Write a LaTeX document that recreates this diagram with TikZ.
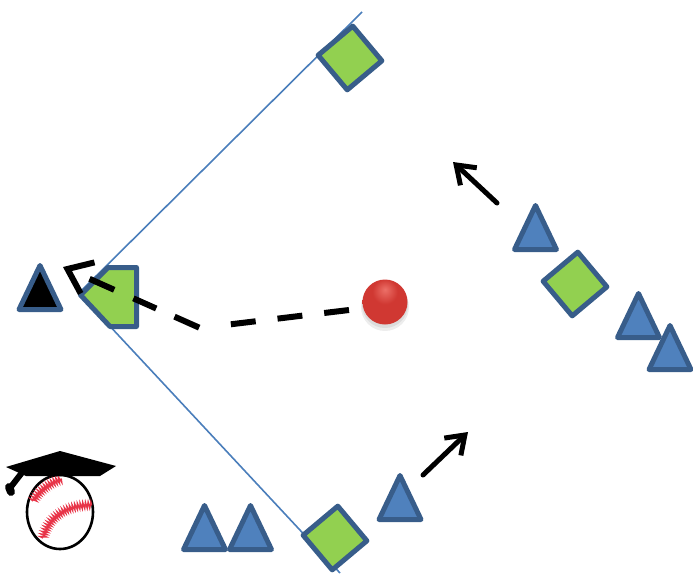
\documentclass[tikz,border=0pt]{standalone}
\usetikzlibrary{shapes.geometric,arrows.meta,decorations.pathmorphing,shadows}
\definecolor{fieldline}{RGB}{74,126,187}
\definecolor{edgeblue}{RGB}{56,93,138}
\definecolor{baggreen}{RGB}{146,208,80}
\definecolor{playerblue}{RGB}{79,129,189}
\definecolor{seamred}{RGB}{232,52,72}
\definecolor{ballhi}{RGB}{236,112,104}
\definecolor{ballmid}{RGB}{208,56,50}
\definecolor{balledge}{RGB}{170,32,28}
\pgfdeclareradialshading{redball}{\pgfpoint{0bp}{14bp}}{%
  color(0bp)=(ballhi); color(14bp)=(ballmid); color(40bp)=(ballmid);
  color(58bp)=(balledge); color(80bp)=(balledge)}
\begin{document}
\begin{tikzpicture}[x=1pt,y=-1pt,
  foul/.style={draw=fieldline,line width=1.6pt},
  bag/.style={diamond,draw=edgeblue,fill=baggreen,line width=5pt,line join=round,
    inner sep=0pt,outer sep=0pt,minimum width=64pt,minimum height=64pt,rotate=-5},
  plate/.style={draw=edgeblue,fill=baggreen,line width=5pt,line join=round},
  fielder/.style={isosceles triangle,isosceles triangle stretches,rotate=90,
    anchor=lower side,draw=edgeblue,fill=playerblue,line width=5pt,line join=round,
    inner sep=0pt,outer sep=0pt,minimum width=42pt,minimum height=44pt},
  runner/.style={fielder,fill=black},
  move/.style={draw=black,line width=5pt,line cap=round,
    -{Straight Barb[length=17pt,width=24pt]}},
  steal/.style={draw=black,line width=6pt,
    dash pattern=on 25pt off 22pt on 25pt off 22pt on 25pt off 32pt
      on 27pt off 20pt on 25pt off 21pt on 27pt off 60pt,
    -{Straight Barb[length=22pt,width=34pt]}},
  seam/.style={draw=seamred,line width=1.4pt,
    decorate,decoration={zigzag,amplitude=3pt,segment length=2.6pt}}
]
\useasboundingbox (0,0) rectangle (693,573);

% foul lines meeting behind home plate
\coordinate (home) at (79,293);
\coordinate (leftpole) at (362,12);
\coordinate (rightpole) at (340,573);
\draw[foul] (home) -- (leftpole);
\draw[foul] (home) -- (rightpole);

% bases
\node[bag] (third) at (350,58) {};
\node[bag] (second) at (575,284) {};
\node[bag] (first) at (335,538) {};
\draw[plate] (108,267.5) -- (136.5,267.5) -- (136.5,326.5) -- (110,326.5) -- (80.5,295) -- cycle;

% players
\node[fielder] (p1) at (535.5,249.5) {};
\node[fielder] (p2) at (638.5,337.5) {};
\node[fielder] (p3) at (670,369.5) {};
\node[fielder] (p4) at (204.5,549.5) {};
\node[fielder] (p5) at (250.5,549.5) {};
\node[fielder] (p6) at (400,519.5) {};
\node[runner] (batter) at (40,309.5) {};

% ball with a soft shadow underneath
\fill[black,opacity=0.07] (385,307) circle [radius=24pt];
\fill[black,opacity=0.07] (385,305) circle [radius=23pt];
\node[circle,minimum size=45pt,inner sep=0pt,shading=redball] (ball) at (385,302) {};

% throw toward the runner
\coordinate (throwstart) at (349,310);
\coordinate (throwbend) at (200,328);
\coordinate (tag) at (63,267);
\draw[steal] (throwstart) -- (throwbend) -- (tag);

% fielder movements
\coordinate (m1s) at (497,203);
\coordinate (m1e) at (453,162);
\coordinate (m2s) at (423,475);
\coordinate (m2e) at (468,432);
\draw[move] (m1s) -- (m1e);
\draw[move] (m2s) -- (m2e);

% logo: baseball wearing a mortarboard
\draw[line width=2.6pt] (60,512) ellipse [x radius=33pt, y radius=37pt];
\draw[seam] (33,501) .. controls (40,490) and (50,483) .. (62,479);
\draw[seam] (43,538) .. controls (48,518) and (65,505) .. (92,505);
\fill[black] (6,467) -- (60,451) -- (116,466) -- (100,476) -- (26,476) -- cycle;
\draw[line width=6pt,line cap=round] (24,470) -- (10,488);
\draw[line width=8pt,line cap=round] (9,487) -- (11,492);
\end{tikzpicture}
\end{document}
